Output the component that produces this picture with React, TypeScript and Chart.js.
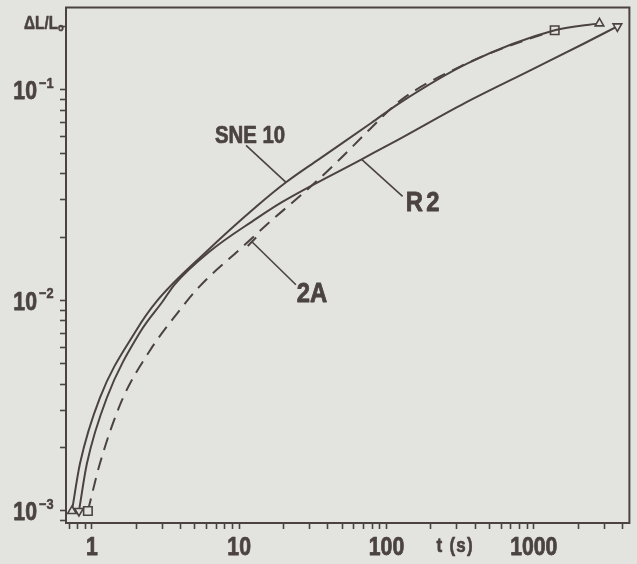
import React, { useEffect, useRef } from 'react';
import { Chart, registerables } from 'chart.js';

Chart.register(...registerables);

// ---- data ----
const SERIES_NAMES = ['SNE 10', 'R2', '2A'];

const SNE_T = [0.732, 0.83, 1.133, 1.983, 2.75, 5.98, 13.2, 20.8, 34.7, 79.2, 120.5, 358, 1387, 2792];
const SNE_V = [0.001, 0.00168, 0.00345, 0.00714, 0.00989, 0.01703, 0.02807, 0.0364, 0.0468, 0.0698, 0.0859, 0.134, 0.1919, 0.207];

const R2_T = [0.817, 0.925, 1.263, 2.143, 3.02, 3.64, 6.27, 13.0, 19.5, 67.8, 120.5, 342, 955, 2212, 3696];
const R2_V = [0.001, 0.00168, 0.00345, 0.00714, 0.00989, 0.0119, 0.01703, 0.0244, 0.0293, 0.0468, 0.0581, 0.0868, 0.1242, 0.1666, 0.2004];

const A2_T = [0.939, 1.133, 1.595, 2.46, 3.75, 5.37, 10.0, 16.7, 29.7, 47.4, 75.5, 126, 321, 618, 1387];
const A2_V = [0.001, 0.00168, 0.00334, 0.00574, 0.00859, 0.01164, 0.0174, 0.0241, 0.0341, 0.0463, 0.0641, 0.0897, 0.1298, 0.1578, 0.1919];

const X_MIN = 0.667;
const X_MAX = 4460;
const Y_MIN = 0.000877;
const Y_MAX = 0.246;

const X_MAJOR = [1, 10, 100, 1000];
const X_LABELS = ['1', '10', '100', '1000'];
const X_DECADES = [0.1, 1, 10, 100, 1000];

const Y_MAJOR = [0.001, 0.01, 0.1];
const Y_BASE = ['10', '10', '10'];
const Y_EXP = ['−3', '−2', '−1'];
const Y_DECADES = [0.0001, 0.001, 0.01, 0.1];

const MULTS = [1, 2, 3, 4, 5, 6, 7, 8, 9];

const Y_TITLE = 'ΔL/L';
const Y_TITLE_SUB = 'o';
const X_TITLE = 't (s)';
const X_TITLE_AT = 290; // data position (s) of the x-axis title centre

// ---- styles ----
const PAPER = '#e3e3df';
const INK = '#4b4341';
const FONT = "'Liberation Sans', Arial, sans-serif";
const SX = 0.85; // horizontal compression to imitate the condensed print face

const buildTicks = (decades: number[], lo: number, hi: number) => {
  const out: number[] = [];
  decades.forEach((d) => MULTS.forEach((m) => {
    const v = +(d * m).toPrecision(6);
    if (v >= lo && v <= hi) out.push(v);
  }));
  return out;
};
const X_TICKS = buildTicks(X_DECADES, X_MIN, X_MAX);
const Y_TICKS = buildTicks(Y_DECADES, Y_MIN, Y_MAX);

// annotation anchors (data coords) with pixel offsets for leader end and text baseline centre
const ANNOTATIONS = [
  { text: SERIES_NAMES[0], at: [20.8, 0.0364], lead: [-40, -37], txt: [-36, -39], size: 24, spacing: 0, bar: false },
  { text: SERIES_NAMES[1], at: [67.8, 0.0468], lead: [41, 37], txt: [61, 52], size: 28, spacing: 4, bar: false },
  { text: SERIES_NAMES[2], at: [12.2, 0.019], lead: [44, 43], txt: [60, 60], size: 28, spacing: 0, bar: true },
];

const drawText = (
  ctx: CanvasRenderingContext2D,
  text: string,
  x: number,
  y: number,
  align: 'left' | 'right' | 'center',
  size: number,
  spacing = 0,
) => {
  ctx.save();
  ctx.font = `bold ${size}px ${FONT}`;
  (ctx as any).letterSpacing = `${spacing}px`;
  ctx.textAlign = 'left';
  ctx.textBaseline = 'alphabetic';
  const w = (ctx.measureText(text).width - spacing) * SX;
  const x0 = align === 'left' ? x : align === 'right' ? x - w : x - w / 2;
  ctx.translate(x0, y);
  ctx.scale(SX, 1);
  ctx.fillStyle = INK;
  ctx.strokeStyle = INK;
  ctx.lineWidth = Math.max(0.5, size * 0.03);
  ctx.lineJoin = 'round';
  ctx.fillText(text, 0, 0);
  ctx.strokeText(text, 0, 0);
  ctx.restore();
};

const paperPlugin = {
  id: 'paper',
  beforeDraw(chart: any) {
    const { ctx, width, height } = chart;
    ctx.save();
    ctx.fillStyle = PAPER;
    ctx.fillRect(0, 0, width, height);
    ctx.restore();
  },
  afterDraw(chart: any) {
    const { ctx, chartArea: a, scales } = chart;
    const xs = scales.x;
    const ys = scales.y;
    ctx.save();
    // top and right frame
    ctx.strokeStyle = INK;
    ctx.lineWidth = 2;
    ctx.beginPath();
    ctx.moveTo(a.left - 1, a.top);
    ctx.lineTo(a.right, a.top);
    ctx.lineTo(a.right, a.bottom + 1);
    ctx.stroke();

    // x tick labels (major decades)
    X_MAJOR.forEach((v, i) => {
      drawText(ctx, X_LABELS[i], xs.getPixelForValue(v), a.bottom + 32, 'center', 25);
    });

    // y tick labels with superscript exponents
    Y_MAJOR.forEach((v, i) => {
      const y = ys.getPixelForValue(v);
      drawText(ctx, Y_BASE[i], a.left - 29, y + 9.5, 'right', 25);
      drawText(ctx, Y_EXP[i], a.left - 27, y - 2, 'left', 15);
    });

    // axis titles
    drawText(ctx, Y_TITLE, a.left - 8, 29, 'right', 18);
    drawText(ctx, Y_TITLE_SUB, a.left - 8, 31, 'left', 11);
    drawText(ctx, X_TITLE, xs.getPixelForValue(X_TITLE_AT), a.bottom + 29, 'center', 20, 1.5);

    // annotations with leader lines
    ANNOTATIONS.forEach((an) => {
      const px = xs.getPixelForValue(an.at[0]);
      const py = ys.getPixelForValue(an.at[1]);
      ctx.strokeStyle = INK;
      ctx.lineWidth = 1.6;
      ctx.beginPath();
      ctx.moveTo(px, py);
      ctx.lineTo(px + an.lead[0], py + an.lead[1]);
      ctx.stroke();
      if (an.bar) {
        const len = Math.hypot(an.lead[0], an.lead[1]);
        const ux = an.lead[1] / len;
        const uy = -an.lead[0] / len;
        ctx.lineWidth = 2;
        ctx.beginPath();
        ctx.moveTo(px - ux * 6, py - uy * 6);
        ctx.lineTo(px + ux * 6, py + uy * 6);
        ctx.stroke();
      }
      drawText(ctx, an.text, px + an.txt[0], py + an.txt[1], 'center', an.size, an.spacing);
    });
    ctx.restore();
  },
};

const mk = (t: number[], v: number[]) => t.map((x, i) => ({ x, y: v[i] }));
const endR = (r: number) => (c: any) =>
  c.dataIndex === 0 || c.dataIndex === c.dataset.data.length - 1 ? r : 0;

export default function App() {
  const ref = useRef<HTMLCanvasElement>(null);
  useEffect(() => {
    const canvas = ref.current!;
    const common = {
      showLine: true,
      borderColor: INK,
      borderWidth: 2,
      cubicInterpolationMode: 'monotone',
      pointBackgroundColor: PAPER,
      pointBorderColor: INK,
      pointBorderWidth: 1.6,
    };
    const chart = new Chart(canvas, {
      type: 'scatter',
      data: {
        datasets: [
          { ...common, label: SERIES_NAMES[0], data: mk(SNE_T, SNE_V), pointStyle: 'triangle', pointRadius: endR(5) },
          { ...common, label: SERIES_NAMES[1], data: mk(R2_T, R2_V), pointStyle: 'triangle', pointRotation: 180, pointRadius: endR(5) },
          { ...common, label: SERIES_NAMES[2], data: mk(A2_T, A2_V), borderDash: [13, 8], pointStyle: 'rect', pointRadius: endR(6) },
        ] as any,
      },
      options: {
        responsive: false,
        animation: false,
        layout: { padding: { top: 5, right: 5, left: 0, bottom: 0 } },
        plugins: { legend: { display: false }, tooltip: { enabled: false } },
        scales: {
          x: {
            type: 'logarithmic',
            position: 'bottom',
            min: X_MIN,
            max: X_MAX,
            afterBuildTicks: (s: any) => { s.ticks = X_TICKS.map((value) => ({ value })); },
            afterFit: (s: any) => { s.height = 41; },
            grid: { drawOnChartArea: false, drawTicks: true, tickLength: 6, tickWidth: 1.6, tickColor: INK },
            border: { display: true, color: INK, width: 2 },
            ticks: { autoSkip: false, maxRotation: 0, padding: 0, callback: () => '' },
          },
          y: {
            type: 'logarithmic',
            position: 'left',
            min: Y_MIN,
            max: Y_MAX,
            afterBuildTicks: (s: any) => { s.ticks = Y_TICKS.map((value) => ({ value })); },
            afterFit: (s: any) => { s.width = 66; },
            grid: { drawOnChartArea: false, drawTicks: true, tickLength: 6, tickWidth: 1.6, tickColor: INK },
            border: { display: true, color: INK, width: 2 },
            ticks: { autoSkip: false, padding: 0, callback: () => '' },
          },
        },
      } as any,
      plugins: [paperPlugin],
    });
    return () => chart.destroy();
  }, []);

  return (
    <div style={{ position: 'fixed', left: 0, top: 0, width: 637, height: 564, background: PAPER }}>
      <canvas ref={ref} width={637} height={564} style={{ width: 637, height: 564, display: 'block' }} />
    </div>
  );
}
